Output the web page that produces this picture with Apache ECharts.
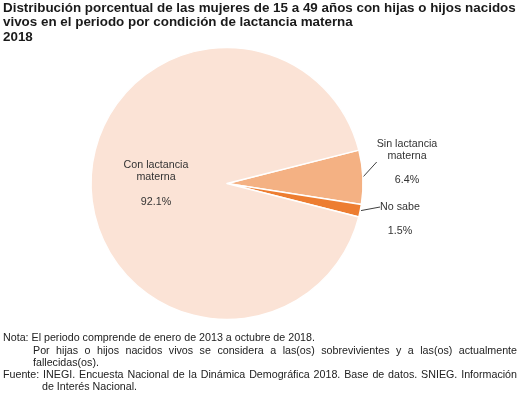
<!DOCTYPE html>
<html>
<head>
<meta charset="utf-8">
<script src="https://cdn.jsdelivr.net/npm/echarts@6/dist/echarts.min.js"></script>
<style>
html,body{margin:0;padding:0;background:#fff;}
#c{width:520px;height:394px;}
</style>
</head>
<body>
<div id="c"></div>
<script>
// ---- data ----
var categories = ['Sin lactancia materna', 'No sabe', 'Con lactancia materna'];
var labelNames = ['Sin lactancia\nmaterna', 'No sabe', 'Con lactancia\nmaterna'];
var values = [6.4, 1.5, 92.1];
var colors = ['#F4B183', '#ED7D31', '#FBE3D6'];

var titleText = 'Distribución porcentual de las mujeres de 15 a 49 años con hijas o hijos nacidos\nvivos en el periodo por condición de lactancia materna\n2018';

var notes = [
  {text: 'Nota: El periodo comprende de enero de 2013 a octubre de 2018.', x: 3, justify: false},
  {text: 'Por hijas o hijos nacidos vivos se considera a las(os) sobrevivientes y a las(os) actualmente', x: 33, justify: true},
  {text: 'fallecidas(os).', x: 33, justify: false},
  {text: 'Fuente: INEGI. Encuesta Nacional de la Dinámica Demográfica 2018. Base de datos. SNIEG. Información', x: 3, justify: true},
  {text: 'de Interés Nacional.', x: 42, justify: false}
];

// ---- layout ----
var cx = 227, cy = 183.5, R = 136;
var FONT = '"Liberation Sans", Arial, sans-serif';
var noteFontSize = 10.7;
var noteCenter0 = 338.5, noteStep = 12.2, noteRight = 517;

var mctx = document.createElement('canvas').getContext('2d');
mctx.font = noteFontSize + 'px ' + FONT;

var graphics = [];
notes.forEach(function (n, i) {
  var y = noteCenter0 + i * noteStep;
  var st = {font: noteFontSize + 'px ' + FONT, fill: '#222', verticalAlign: 'middle'};
  if (!n.justify) {
    graphics.push({type: 'text', x: n.x, y: y, style: Object.assign({text: n.text}, st)});
  } else {
    var words = n.text.split(' ');
    var widths = words.map(function (w) { return mctx.measureText(w).width; });
    var total = widths.reduce(function (a, b) { return a + b; }, 0);
    var gap = (noteRight - n.x - total) / (words.length - 1);
    var xx = n.x;
    words.forEach(function (w, k) {
      graphics.push({type: 'text', x: xx, y: y, style: Object.assign({text: w}, st)});
      xx += widths[k] + gap;
    });
  }
});

var data = categories.map(function (c, i) {
  var item = {name: c, value: values[i], itemStyle: {color: colors[i]}};
  if (i === 2) {
    item.label = {position: 'inside', lineHeight: 12.5};
  }
  return item;
});

var chart = echarts.init(document.getElementById('c'), null, {renderer: 'canvas'});
chart.setOption({
  animation: false,
  backgroundColor: '#fff',
  title: {
    text: titleText,
    left: 3, top: 1, padding: 0,
    textStyle: {fontFamily: FONT, fontSize: 13.4, fontWeight: 'bold', color: '#1a1a1a', lineHeight: 14.5}
  },
  graphic: graphics,
  series: [{
    type: 'pie',
    center: [cx, cy],
    radius: [0, R],
    startAngle: 14.2,
    clockwise: true,
    avoidLabelOverlap: false,
    itemStyle: {borderColor: '#fff', borderWidth: 1.5},
    label: {
      show: true,
      position: 'outside',
      fontFamily: FONT,
      fontSize: 10.7,
      color: '#333',
      lineHeight: 12,
      align: 'center',
      formatter: function (p) {
        var t = labelNames[p.dataIndex] + '\n\n' + p.value.toFixed(1) + '%';
        if (p.dataIndex === 1) t = '\n\n' + t;
        return t;
      }
    },
    labelLine: {show: true, length: 0, length2: 0, lineStyle: {color: '#404040', width: 1}},
    labelLayout: function (p) {
      if (p.dataIndex === 0) return {x: cx + 180, y: cy - 21.5, align: 'center', verticalAlign: 'middle'};
      if (p.dataIndex === 1) return {x: cx + 173, y: cy + 23.5, align: 'center', verticalAlign: 'middle'};
      return {};
    },
    data: data
  }]
});
</script>
</body>
</html>
